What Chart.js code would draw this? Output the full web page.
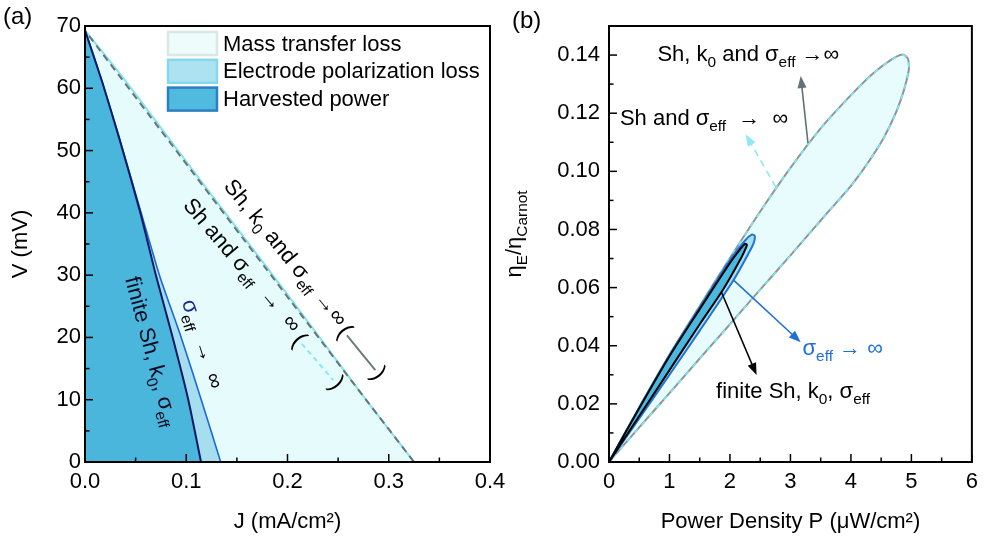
<!DOCTYPE html>
<html><head><meta charset="utf-8">
<script src="https://cdn.jsdelivr.net/npm/chart.js@4.4.0/dist/chart.umd.min.js"></script>
<style>
html,body{margin:0;padding:0;background:#fff;width:985px;height:538px;overflow:hidden}
#wa{position:absolute;left:0;top:0;width:540px;height:538px}
#wb{position:absolute;left:495px;top:0;width:490px;height:538px}
</style></head><body>
<div id="wa"><canvas id="ca"></canvas></div>
<div id="wb"><canvas id="cb"></canvas></div>
<script>
// ---------- Panel (a) data: V (mV) vs J (mA/cm2) ----------
const J_finite  = [0, 0.017, 0.0334, 0.0547, 0.070, 0.0866, 0.102, 0.1146];
const V_finite  = [69.3, 61, 52.2, 40, 30, 20, 10, 0];
const J_sigma   = [0, 0.017, 0.0336, 0.0555, 0.0735, 0.095, 0.1148, 0.134];
const V_sigma   = [69.3, 61, 52.2, 40, 30, 20, 10, 0];
const J_shSigma = [0, 0.04, 0.084, 0.130, 0.1795, 0.228, 0.278, 0.325];
const V_shSigma = [69.3, 61.2, 51.7, 41.8, 31.3, 20.8, 9.9, 0];
const J_ideal   = [0.004, 0.083, 0.179, 0.278, 0.325];
const V_ideal   = [68.4, 51.5, 31.0, 9.9, 0];
const J_TICKS = [0, 0.1, 0.2, 0.3, 0.4];
const J_TICK_LABELS = ['0.0', '0.1', '0.2', '0.3', '0.4'];
const V_TICKS = [0, 10, 20, 30, 40, 50, 60, 70];
const V_TICK_LABELS = ['0', '10', '20', '30', '40', '50', '60', '70'];
const LEGEND_A = ['Mass transfer loss', 'Electrode polarization loss', 'Harvested power'];

// ---------- Panel (b) data: eta_E/eta_Carnot vs P (uW/cm2) ----------
const P_ideal = [0, 0.5, 1.0, 1.5, 2.0, 2.5, 3.0, 3.5, 4.0, 4.35, 4.65, 4.85, 4.94, 4.96, 4.95, 4.88, 4.75, 4.55, 4.3, 4.0, 3.6, 3.0, 2.5, 2.0, 1.5, 1.0, 0.5, 0];
const E_ideal = [0, 0.0188, 0.0368, 0.0537, 0.0702, 0.0862, 0.1012, 0.1148, 0.1262, 0.1334, 0.1382, 0.1402, 0.1388, 0.1360, 0.1340, 0.1282, 0.1205, 0.1118, 0.1035, 0.0950, 0.0855, 0.0711, 0.0593, 0.0474, 0.0356, 0.0237, 0.0119, 0];
const P_shSigma = [0, 0.5, 1.0, 1.5, 2.0, 2.5, 3.0, 3.5, 4.0, 4.35, 4.65, 4.85, 4.94, 4.96, 4.95, 4.88, 4.75, 4.55, 4.3, 4.0, 3.6, 3.0, 2.5, 2.0, 1.5, 1.0, 0.5, 0];
const E_shSigma = [0, 0.0187, 0.0367, 0.0536, 0.0701, 0.0861, 0.1011, 0.1147, 0.1261, 0.1333, 0.1381, 0.1401, 0.1387, 0.1359, 0.1339, 0.1281, 0.1204, 0.1117, 0.1034, 0.0949, 0.0854, 0.0710, 0.0592, 0.0473, 0.0355, 0.0236, 0.0118, 0];
const P_sigma = [0, 0.5, 1.0, 1.5, 2.0, 2.25, 2.36, 2.41, 2.39, 2.3, 2.06, 1.5, 1.0, 0.5, 0];
const E_sigma = [0, 0.0187, 0.0368, 0.0532, 0.0695, 0.0762, 0.0782, 0.0778, 0.0752, 0.0715, 0.0626, 0.0452, 0.0300, 0.0150, 0];
const P_finite = [0, 0.5, 1.0, 1.5, 2.0, 2.16, 2.25, 2.28, 2.26, 2.18, 1.9, 1.5, 1.0, 0.5, 0];
const E_finite = [0, 0.0185, 0.0364, 0.0526, 0.0685, 0.0730, 0.0751, 0.0747, 0.0735, 0.0700, 0.0598, 0.0474, 0.0316, 0.0158, 0];
const P_TICKS = [0, 1, 2, 3, 4, 5, 6];
const P_TICK_LABELS = ['0', '1', '2', '3', '4', '5', '6'];
const E_TICKS = [0, 0.02, 0.04, 0.06, 0.08, 0.10, 0.12, 0.14];
const E_TICK_LABELS = ['0.00', '0.02', '0.04', '0.06', '0.08', '0.10', '0.12', '0.14'];

const FONT = '"Liberation Sans", Arial, Helvetica, sans-serif';
const pts = (xs, ys) => xs.map((x, i) => ({x, y: ys[i]}));

function setFont(ctx, size) { ctx.font = size + 'px ' + FONT; }
function richWidth(ctx, segs, size) {
  let w = 0;
  for (const s of segs) { setFont(ctx, (s.sub || s.sup) ? size * 0.7 : size); w += ctx.measureText(s.t).width; }
  return w;
}
function drawRich(ctx, segs, x, y, o) {
  const size = o.size || 22;
  ctx.save();
  ctx.translate(x, y);
  ctx.rotate((o.angle || 0) * Math.PI / 180);
  const w = richWidth(ctx, segs, size);
  let cx = o.align === 'center' ? -w / 2 : 0;
  const base = size * 0.36;
  ctx.textBaseline = 'alphabetic';
  ctx.textAlign = 'left';
  for (const s of segs) {
    const small = s.sub || s.sup;
    setFont(ctx, small ? size * 0.7 : size);
    ctx.fillStyle = s.color || o.color || '#000';
    const dy = s.sub ? size * 0.26 : (s.sup ? -size * 0.4 : 0);
    ctx.fillText(s.t, cx, base + dy);
    cx += ctx.measureText(s.t).width;
  }
  ctx.restore();
}
function drawArrow(ctx, x1, y1, x2, y2, color, dash) {
  const a = Math.atan2(y2 - y1, x2 - x1), hl = 12, hw = 4.5;
  ctx.save();
  ctx.strokeStyle = color; ctx.fillStyle = color; ctx.lineWidth = 1.6;
  ctx.setLineDash(dash || []);
  ctx.beginPath(); ctx.moveTo(x1, y1);
  ctx.lineTo(x2 - hl * 0.8 * Math.cos(a), y2 - hl * 0.8 * Math.sin(a)); ctx.stroke();
  ctx.setLineDash([]);
  const bx = x2 - hl * Math.cos(a), by = y2 - hl * Math.sin(a);
  ctx.beginPath(); ctx.moveTo(x2, y2);
  ctx.lineTo(bx + hw * Math.sin(a), by - hw * Math.cos(a));
  ctx.lineTo(bx - hw * Math.sin(a), by + hw * Math.cos(a));
  ctx.closePath(); ctx.fill();
  ctx.restore();
}

const annotPlugin = {
  id: 'annot',
  afterDraw(chart, args, o) {
    const {ctx, chartArea: a, scales: {x, y}} = chart;
    ctx.save();
    ctx.strokeStyle = '#000'; ctx.lineWidth = 2;
    ctx.strokeRect(a.left, a.top, a.right - a.left, a.bottom - a.top);
    ctx.lineWidth = 1.5;
    const drawTicks = (vals, isX) => {
      for (let i = 0; i < vals.length; i++) {
        const v = vals[i];
        const p = isX ? x.getPixelForValue(v) : y.getPixelForValue(v);
        ctx.beginPath();
        if (isX) { ctx.moveTo(p, a.bottom); ctx.lineTo(p, a.bottom - 8); }
        else { ctx.moveTo(a.left, p); ctx.lineTo(a.left + 8, p); }
        ctx.stroke();
        if (i < vals.length - 1) {
          const m = (v + vals[i + 1]) / 2;
          const q = isX ? x.getPixelForValue(m) : y.getPixelForValue(m);
          ctx.beginPath();
          if (isX) { ctx.moveTo(q, a.bottom); ctx.lineTo(q, a.bottom - 4.5); }
          else { ctx.moveTo(a.left, q); ctx.lineTo(a.left + 4.5, q); }
          ctx.stroke();
        }
      }
    };
    drawTicks(o.xTicks, true);
    drawTicks(o.yTicks, false);
    ctx.restore();
    ctx.save(); setFont(ctx, 24); ctx.fillStyle = '#000'; ctx.textBaseline = 'middle'; ctx.textAlign = 'left';
    ctx.fillText(o.panel, o.panelX, o.panelY); ctx.restore();
    if (o.yTitle) drawRich(ctx, o.yTitle.segs, o.yTitle.x, (a.top + a.bottom) / 2 - 10, {size: 22, angle: -90, align: 'center'});
    for (const b of (o.brackets || [])) {
      const cx = x.getPixelForValue(b.x), cy = y.getPixelForValue(b.y);
      ctx.save(); ctx.translate(cx, cy); ctx.rotate(b.angle * Math.PI / 180);
      ctx.strokeStyle = b.color; ctx.lineWidth = 2; ctx.setLineDash(b.dash || []);
      ctx.beginPath(); ctx.moveTo(-b.len / 2, 0); ctx.lineTo(b.len / 2, 0); ctx.stroke();
      ctx.setLineDash([]);
      setFont(ctx, 24); ctx.fillStyle = '#000'; ctx.textBaseline = 'middle';
      ctx.textAlign = 'right'; ctx.fillText('(', -b.len / 2 - 1, 0);
      ctx.textAlign = 'left'; ctx.fillText(')', b.len / 2 + 1, 0);
      ctx.restore();
    }
    for (const r of (o.arrows || [])) {
      drawArrow(ctx, x.getPixelForValue(r.x1), y.getPixelForValue(r.y1), x.getPixelForValue(r.x2), y.getPixelForValue(r.y2), r.color, r.dash);
    }
    for (const t of (o.texts || [])) {
      drawRich(ctx, t.segs, x.getPixelForValue(t.x), y.getPixelForValue(t.y), {size: t.size || 22, angle: t.angle || 0, align: t.align || 'left', color: t.color});
    }
    if (o.legend) {
      const lx = a.left + 83, ly = a.top + 6, pitch = 27.8, sw = 49, sh = 23;
      o.legend.forEach((it, i) => {
        const top = ly + i * pitch;
        ctx.save();
        ctx.fillStyle = it.fill; ctx.fillRect(lx, top, sw, sh);
        ctx.strokeStyle = it.border; ctx.lineWidth = 2.5; ctx.strokeRect(lx, top, sw, sh);
        setFont(ctx, 22); ctx.fillStyle = '#000'; ctx.textBaseline = 'middle'; ctx.textAlign = 'left';
        ctx.fillText(it.label, lx + 55, top + sh / 2 + 1);
        ctx.restore();
      });
    }
  }
};

function axisCfg(min, max, ticks, labels, opt) {
  return {
    type: 'linear', min, max, position: opt.position,
    afterBuildTicks: s => { s.ticks = ticks.map(v => ({value: v})); },
    ticks: {callback: (v, i) => labels[i], font: {size: 22, family: FONT}, color: '#000', padding: opt.pad, maxRotation: 0, autoSkip: false},
    grid: {display: false, drawTicks: false},
    border: {display: false},
    title: opt.title ? {display: true, text: opt.title, font: {size: 22, family: FONT}, color: '#000', padding: opt.titlePad} : {display: false},
    afterFit: s => { if (opt.position === 'bottom') s.height = opt.size; else s.width = opt.size; }
  };
}

new Chart(document.getElementById('ca'), {
  type: 'line',
  data: {datasets: [
    {label: 'Sh, k0 and σeff →∞', data: pts(J_ideal, V_ideal), borderColor: '#687476', borderWidth: 2, borderDash: [7, 5], fill: false, tension: 0.2, pointRadius: 0},
    {label: LEGEND_A[2], data: pts(J_finite, V_finite), borderColor: '#0c1a66', borderWidth: 2, backgroundColor: '#4ab6dc', fill: 'origin', tension: 0.2, pointRadius: 0},
    {label: LEGEND_A[1], data: pts(J_sigma, V_sigma), borderColor: '#1a6ad8', borderWidth: 1.6, backgroundColor: '#a6def0', fill: 'origin', tension: 0.2, pointRadius: 0},
    {label: LEGEND_A[0], data: pts(J_shSigma, V_shSigma), borderColor: '#86e3ef', borderWidth: 2, backgroundColor: '#e6fbfc', fill: 'origin', tension: 0.2, pointRadius: 0}
  ]},
  options: {
    responsive: true, maintainAspectRatio: false, animation: false,
    layout: {padding: {left: 0, top: 26, right: 50, bottom: 0}},
    plugins: {legend: {display: false}, tooltip: {enabled: false},
      annot: {
        panel: '(a)', panelX: 3, panelY: 17,
        xTicks: J_TICKS, yTicks: V_TICKS,
        legend: [
          {label: LEGEND_A[0], fill: '#eefcfc', border: '#d9e7e7'},
          {label: LEGEND_A[1], fill: '#ade2f0', border: '#84d9ec'},
          {label: LEGEND_A[2], fill: '#50bbdf', border: '#2c7fc0'}
        ],
        brackets: [
          {x: 0.2727, y: 17.54, angle: 51, len: 45, color: '#6d7b7d'},
          {x: 0.2297, y: 16.06, angle: 49, len: 48, color: '#8de6f2', dash: [5, 4]}
        ],
        texts: [
          {x: 0.0667, y: 17.8, angle: 75, align: 'center', color: '#0a0a20', segs: [{t: 'finite Sh, k'}, {t: '0', sub: true}, {t: ', σ'}, {t: 'eff', sub: true}]},
          {x: 0.117, y: 19.0, angle: 72, align: 'center', segs: [{t: 'σ', color: '#1c2a86'}, {t: 'eff', sub: true}, {t: '  →  ∞'}]},
          {x: 0.156, y: 31.7, angle: 49.5, align: 'center', segs: [{t: 'Sh and σ'}, {t: 'eff', sub: true}, {t: '  →  ∞'}]},
          {x: 0.199, y: 33.7, angle: 51, align: 'center', segs: [{t: 'Sh, k'}, {t: '0', sub: true}, {t: ' and σ'}, {t: 'eff', sub: true}, {t: ' →∞'}]}
        ]
      }
    },
    scales: {
      x: axisCfg(0, 0.4, J_TICKS, J_TICK_LABELS, {position: 'bottom', pad: 7, size: 76, title: 'J (mA/cm²)', titlePad: {top: 0, bottom: 3}}),
      y: axisCfg(0, 70, V_TICKS, V_TICK_LABELS, {position: 'left', pad: 4, size: 85, title: 'V (mV)', titlePad: {top: 8, bottom: 0}})
    }
  },
  plugins: [annotPlugin]
});

new Chart(document.getElementById('cb'), {
  type: 'line',
  data: {datasets: [
    {label: 'finite Sh, k0, σeff', data: pts(P_finite, E_finite), borderColor: '#050505', borderWidth: 2, backgroundColor: '#4bb9df', fill: 'shape', tension: 0.3, pointRadius: 0},
    {label: 'σeff → ∞', data: pts(P_sigma, E_sigma), borderColor: '#1f72d8', borderWidth: 2, backgroundColor: '#a9e0f0', fill: 'shape', tension: 0.3, pointRadius: 0},
    {label: 'Sh and σeff → ∞', data: pts(P_shSigma, E_shSigma), borderColor: '#7fe3f0', borderWidth: 1.8, borderDash: [5, 6], fill: false, tension: 0.3, pointRadius: 0},
    {label: 'Sh, k0 and σeff →∞', data: pts(P_ideal, E_ideal), borderColor: '#8e9698', borderWidth: 2, backgroundColor: '#e8fcfd', fill: 'shape', tension: 0.3, pointRadius: 0}
  ]},
  options: {
    responsive: true, maintainAspectRatio: false, animation: false,
    layout: {padding: {left: 0, top: 26, right: 9, bottom: 0}},
    plugins: {legend: {display: false}, tooltip: {enabled: false},
      annot: {
        panel: '(b)', panelX: 17, panelY: 21,
        xTicks: P_TICKS, yTicks: E_TICKS.concat([0.16]),
        yTitle: {x: 18, segs: [{t: 'η'}, {t: 'E', sub: true}, {t: '/η'}, {t: 'Carnot', sub: true}]},
        arrows: [
          {x1: 3.29, y1: 0.1097, x2: 3.17, y2: 0.1328, color: '#5e7478'},
          {x1: 2.76, y1: 0.0945, x2: 2.26, y2: 0.1128, color: '#8de9f5', dash: [7, 5]},
          {x1: 2.06, y1: 0.0626, x2: 3.17, y2: 0.0412, color: '#1f6fd6'},
          {x1: 1.86, y1: 0.0584, x2: 2.44, y2: 0.0299, color: '#000'}
        ],
        texts: [
          {x: 0.80, y: 0.1407, segs: [{t: 'Sh, k'}, {t: '0', sub: true}, {t: ' and σ'}, {t: 'eff', sub: true}, {t: ' →∞'}]},
          {x: 0.18, y: 0.1186, segs: [{t: 'Sh and σ'}, {t: 'eff', sub: true}, {t: '  →  ∞'}]},
          {x: 3.20, y: 0.0395, color: '#1f6fd6', segs: [{t: 'σ'}, {t: 'eff', sub: true}, {t: ' → ∞'}]},
          {x: 1.77, y: 0.0247, segs: [{t: 'finite Sh, k'}, {t: '0', sub: true}, {t: ', σ'}, {t: 'eff', sub: true}]}
        ]
      }
    },
    scales: {
      x: axisCfg(0, 6, P_TICKS, P_TICK_LABELS, {position: 'bottom', pad: 7, size: 76, title: 'Power Density P (μW/cm²)', titlePad: {top: 0, bottom: 3}}),
      y: axisCfg(0, 0.15, E_TICKS, E_TICK_LABELS, {position: 'left', pad: 9, size: 114})
    }
  },
  plugins: [annotPlugin]
});
</script>
</body></html>
